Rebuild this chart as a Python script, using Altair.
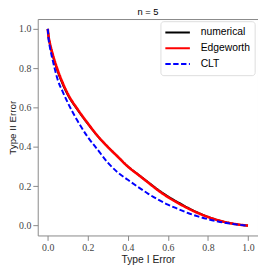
import altair as alt
import pandas as pd

# Type I error grid and Type II error values
alpha = [0, 0.005, 0.01, 0.025, 0.05, 0.075, 0.1, 0.15, 0.2, 0.25, 0.3, 0.35,
         0.4, 0.45, 0.5, 0.55, 0.6, 0.65, 0.7, 0.75, 0.8, 0.85, 0.9, 0.95, 1.0]
numerical = [1.0, 0.953, 0.927, 0.865, 0.783, 0.718, 0.665, 0.587, 0.518, 0.454,
             0.40, 0.35, 0.301, 0.261, 0.222, 0.183, 0.149, 0.119, 0.091, 0.066,
             0.045, 0.028, 0.015, 0.006, 0.0]
edgeworth = [1.0, 0.955, 0.93, 0.87, 0.79, 0.725, 0.67, 0.59, 0.52, 0.455,
             0.40, 0.35, 0.30, 0.26, 0.22, 0.18, 0.145, 0.115, 0.088, 0.064,
             0.044, 0.028, 0.015, 0.006, 0.0]
clt = [1.0, 0.94, 0.91, 0.84, 0.74, 0.68, 0.625, 0.53, 0.45, 0.385,
       0.32, 0.27, 0.233, 0.197, 0.163, 0.133, 0.107, 0.085, 0.064, 0.047,
       0.033, 0.021, 0.012, 0.005, 0.0]

series_names = ["numerical", "Edgeworth", "CLT"]
series_colors = ["#000000", "#ff0000", "#0000ff"]
series_dash = [[1, 0], [1, 0], [5.5, 2.5]]
series_width = [2, 2.6, 2]
x_ticks = [0.0, 0.2, 0.4, 0.6, 0.8, 1.0]
y_ticks = [0.0, 0.2, 0.4, 0.6, 0.8, 1.0]

rows = []
for name, vals in zip(series_names, [numerical, edgeworth, clt]):
    for a, b in zip(alpha, vals):
        rows.append({"series": name, "alpha": a, "beta": b})
df = pd.DataFrame(rows)

legend = alt.Legend(
    title=None, orient="none", legendX=125, legendY=2.2,
    symbolType="stroke", symbolSize=625, symbolStrokeWidth=2,
    clipHeight=15, rowPadding=1, padding=4, labelOffset=10,
    strokeColor="#dddddd", fillColor="#ffffff", cornerRadius=3,
    labelFont="Liberation Sans", labelFontSize=10.5, labelColor="#000000",
)

base = alt.Chart(df).encode(
    x=alt.X("alpha:Q",
            scale=alt.Scale(domain=[-0.05, 1.05], nice=False, zero=False),
            axis=alt.Axis(values=x_ticks, format=".1f", title="Type I Error",
                          titleY=27.7, titleBaseline="alphabetic")),
    y=alt.Y("beta:Q",
            scale=alt.Scale(domain=[-0.05, 1.05], nice=False, zero=False),
            axis=alt.Axis(values=y_ticks, format=".1f", title="Type II Error",
                          titleX=-22.3, titleBaseline="alphabetic",
                          titleFontSize=10)),
    color=alt.Color("series:N",
                    scale=alt.Scale(domain=series_names, range=series_colors),
                    legend=legend),
    strokeDash=alt.StrokeDash("series:N",
                              scale=alt.Scale(domain=series_names, range=series_dash),
                              legend=legend),
)

layers = [
    base.transform_filter(alt.datum.series == n).mark_line(
        strokeWidth=w, interpolate="monotone")
    for n, w in zip(series_names, series_width)
]

chart = alt.layer(*layers).properties(
    width=224.4, height=220.5,
    title=alt.TitleParams("n = 5", font="Liberation Sans", fontSize=9.5,
                          fontWeight="normal", color="#000000", offset=1.2,
                          baseline="alphabetic", anchor="middle", dy=7),
    autosize=alt.AutoSizeParams(type="none"),
    padding={"left": 30.3, "top": 8.8, "right": 0, "bottom": 31},
).configure_view(
    stroke="#888888", strokeWidth=1
).configure_axis(
    grid=False, domain=False, tickColor="#888888", tickSize=5, tickWidth=1,
    labelFont="Liberation Serif", labelFontSize=10, labelColor="#444444",
    labelPadding=2, titleFont="Liberation Sans", titleFontSize=10.5,
    titleFontWeight="normal", titleColor="#222222",
)

chart.save("out.html", embed_options={"renderer": "svg", "actions": False})
